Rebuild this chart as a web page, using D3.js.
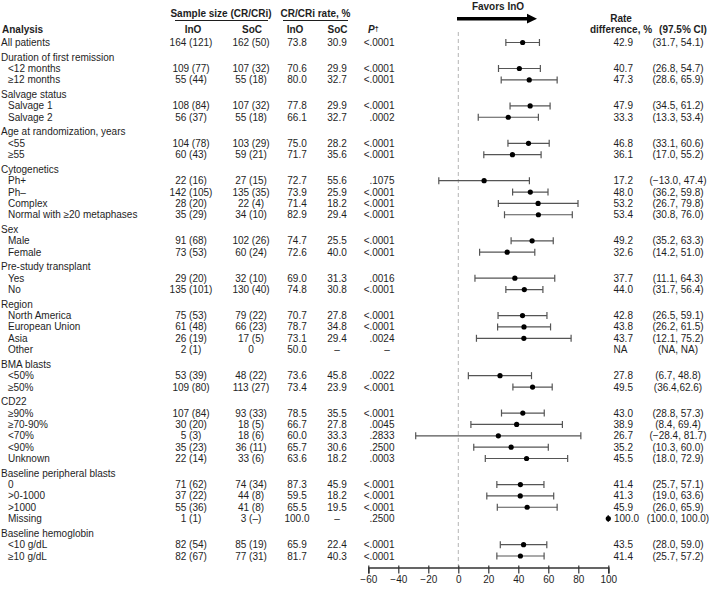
<!DOCTYPE html>
<html><head><meta charset="utf-8">
<script src="https://cdn.jsdelivr.net/npm/d3@7"></script>
<style>
html,body{margin:0;padding:0;background:#fff;}
svg{display:block;font-family:"Liberation Sans",Arial,Helvetica,sans-serif;}
</style></head>
<body><svg id="c" width="709" height="589"></svg>
<script>
const rowLabels = ["All patients","Duration of first remission","<12 months","≥12 months","Salvage status","Salvage 1","Salvage 2","Age at randomization, years","<55","≥55","Cytogenetics","Ph+","Ph–","Complex","Normal with ≥20 metaphases","Sex","Male","Female","Pre-study transplant","Yes","No","Region","North America","European Union","Asia","Other","BMA blasts","<50%","≥50%","CD22","≥90%","≥70-90%","<70%","<90%","Unknown","Baseline peripheral blasts","0",">0-1000",">1000","Missing","Baseline hemoglobin","<10 g/dL","≥10 g/dL"];
const rowIsGroup = [0,1,0,0,1,0,0,1,0,0,1,0,0,0,0,1,0,0,1,0,0,1,0,0,0,0,1,0,0,1,0,0,0,0,0,1,0,0,0,0,1,0,0];
const inoSample = ["164 (121)",null,"109 (77)","55 (44)",null,"108 (84)","56 (37)",null,"104 (78)","60 (43)",null,"22 (16)","142 (105)","28 (20)","35 (29)",null,"91 (68)","73 (53)",null,"29 (20)","135 (101)",null,"75 (53)","61 (48)","26 (19)","2 (1)",null,"53 (39)","109 (80)",null,"107 (84)","30 (20)","5 (3)","35 (23)","22 (14)",null,"71 (62)","37 (22)","55 (36)","1 (1)",null,"82 (54)","82 (67)"];
const socSample = ["162 (50)",null,"107 (32)","55 (18)",null,"107 (32)","55 (18)",null,"103 (29)","59 (21)",null,"27 (15)","135 (35)","22 (4)","34 (10)",null,"102 (26)","60 (24)",null,"32 (10)","130 (40)",null,"79 (22)","66 (23)","17 (5)","0",null,"48 (22)","113 (27)",null,"93 (33)","18 (5)","18 (6)","36 (11)","33 (6)",null,"74 (34)","44 (8)","41 (8)","3 (–)",null,"85 (19)","77 (31)"];
const inoRate = ["73.8",null,"70.6","80.0",null,"77.8","66.1",null,"75.0","71.7",null,"72.7","73.9","71.4","82.9",null,"74.7","72.6",null,"69.0","74.8",null,"70.7","78.7","73.1","50.0",null,"73.6","73.4",null,"78.5","66.7","60.0","65.7","63.6",null,"87.3","59.5","65.5","100.0",null,"65.9","81.7"];
const socRate = ["30.9",null,"29.9","32.7",null,"29.9","32.7",null,"28.2","35.6",null,"55.6","25.9","18.2","29.4",null,"25.5","40.0",null,"31.3","30.8",null,"27.8","34.8","29.4","–",null,"45.8","23.9",null,"35.5","27.8","33.3","30.6","18.2",null,"45.9","18.2","19.5","–",null,"22.4","40.3"];
const pValues = ["<.0001",null,"<.0001","<.0001",null,"<.0001",".0002",null,"<.0001","<.0001",null,".1075","<.0001","<.0001","<.0001",null,"<.0001","<.0001",null,".0016","<.0001",null,"<.0001","<.0001",".0024","–",null,".0022","<.0001",null,"<.0001",".0045",".2833",".2500",".0003",null,"<.0001","<.0001","<.0001",".2500",null,"<.0001","<.0001"];
const rateDiff = [42.9,null,40.7,47.3,null,47.9,33.3,null,46.8,36.1,null,17.2,48.0,53.2,53.4,null,49.2,32.6,null,37.7,44.0,null,42.8,43.8,43.7,"NA",null,27.8,49.5,null,43.0,38.9,26.7,35.2,45.5,null,41.4,41.3,45.9,100.0,null,43.5,41.4];
const ciLow = [31.7,null,26.8,28.6,null,34.5,13.3,null,33.1,17.0,null,-13.0,36.2,26.7,30.8,null,35.2,14.2,null,11.1,31.7,null,26.5,26.2,12.1,null,null,6.7,36.4,null,28.8,8.4,-28.4,10.3,18.0,null,25.7,19.0,26.0,100.0,null,28.0,25.7];
const ciHigh = [54.1,null,54.7,65.9,null,61.2,53.4,null,60.6,55.2,null,47.4,59.8,79.8,76.0,null,63.3,51.0,null,64.3,56.4,null,59.1,61.5,75.2,null,null,48.8,62.6,null,57.3,69.4,81.7,60.0,72.9,null,57.1,63.6,65.9,100.0,null,59.0,57.2];
const ciLabels = ["(31.7, 54.1)",null,"(26.8, 54.7)","(28.6, 65.9)",null,"(34.5, 61.2)","(13.3, 53.4)",null,"(33.1, 60.6)","(17.0, 55.2)",null,"(−13.0, 47.4)","(36.2, 59.8)","(26.7, 79.8)","(30.8, 76.0)",null,"(35.2, 63.3)","(14.2, 51.0)",null,"(11.1, 64.3)","(31.7, 56.4)",null,"(26.5, 59.1)","(26.2, 61.5)","(12.1, 75.2)","(NA, NA)",null,"(6.7, 48.8)","(36.4,62.6)",null,"(28.8, 57.3)","(8.4, 69.4)","(−28.4, 81.7)","(10.3, 60.0)","(18.0, 72.9)",null,"(25.7, 57.1)","(19.0, 63.6)","(26.0, 65.9)","(100.0, 100.0)",null,"(28.0, 59.0)","(25.7, 57.2)"];
const axisTicks = [-60,-40,-20,0,20,40,60,80,100];

const svg = d3.select("#c");
const ink = "#1e1e1e";
const fs = 10;

// vertical layout: row index plus extra gap before each group header
let g = 0;
const rows = rowLabels.map((lab, i) => {
  if (rowIsGroup[i]) g++;
  return {i, lab, grp: !!rowIsGroup[i], pos: i + g * 0.29,
    ino: inoSample[i], soc: socSample[i], ir: inoRate[i], sr: socRate[i],
    p: pValues[i], rd: rateDiff[i], lo: ciLow[i], hi: ciHigh[i], ci: ciLabels[i]};
});
const y = d3.scaleLinear().domain([0, d3.max(rows, d => d.pos)]).range([42.5, 556]);
const x = d3.scaleLinear().domain([-60, 100]).range([368.3, 608.3]);

function txt(xp, yp, s, anchor, weight, style) {
  return svg.append("text").attr("x", xp).attr("y", yp).attr("dy", "0.35em")
    .attr("text-anchor", anchor || "start").attr("font-size", fs)
    .attr("font-weight", weight || "normal").attr("font-style", style || "normal")
    .attr("fill", ink).text(s);
}

// headers
txt(2, 29.5, "Analysis", "start", "bold");
txt(221, 13.5, "Sample size (CR/CRi)", "middle", "bold");
txt(315.5, 13.5, "CR/CRi rate, %", "middle", "bold");
svg.append("line").attr("x1", 175).attr("x2", 268).attr("y1", 20.5).attr("y2", 20.5).attr("stroke", ink).attr("stroke-width", 1);
svg.append("line").attr("x1", 283).attr("x2", 348).attr("y1", 20.5).attr("y2", 20.5).attr("stroke", ink).attr("stroke-width", 1);
txt(193, 29.5, "InO", "middle", "bold");
txt(252, 29.5, "SoC", "middle", "bold");
txt(295, 29.5, "InO", "middle", "bold");
txt(337.5, 29.5, "SoC", "middle", "bold");
const pt = txt(368, 29.5, "", "start", "bold");
pt.append("tspan").attr("font-style", "italic").text("P");
pt.append("tspan").attr("font-size", 7).attr("dy", "-0.3em").text("†");
txt(498, 6.5, "Favors InO", "middle", "bold");
txt(621, 18, "Rate", "middle", "bold");
txt(621, 29.5, "difference, %", "middle", "bold");
txt(683, 29.5, "(97.5% CI)", "middle", "bold");

// arrow
svg.append("line").attr("x1", 457).attr("x2", 529).attr("y1", 18.7).attr("y2", 18.7).attr("stroke", "#000").attr("stroke-width", 3.5);
svg.append("path").attr("d", "M527,13.8 L537,18.7 L527,23.6 Z").attr("fill", "#000");

// zero dashed line
svg.append("line").attr("x1", x(0)).attr("x2", x(0)).attr("y1", 32).attr("y2", 567)
  .attr("stroke", "#b5b5b5").attr("stroke-width", 1).attr("stroke-dasharray", "4,3");

// table text
rows.forEach(d => {
  const yy = y(d.pos);
  txt(d.grp || d.i === 0 ? 1 : 8, yy, d.lab);
  if (d.grp) return;
  txt(191, yy, d.ino, "middle");
  txt(251, yy, d.soc, "middle");
  txt(297, yy, d.ir, "middle");
  txt(337, yy, d.sr, "middle");
  if (d.p === "–") txt(387, yy, d.p, "middle"); else txt(394.5, yy, d.p, "end");
  txt(d.rd === 100 ? 614 : 613.5, yy, typeof d.rd === "number" ? d.rd.toFixed(1) : d.rd);
  txt(678, yy, d.ci, "middle");
});

// CI bars and points
const est = rows.filter(d => !d.grp && d.lo != null);
const gci = svg.append("g");
est.forEach(d => {
  const yy = y(d.pos);
  gci.append("line").attr("x1", x(d.lo)).attr("x2", x(d.hi)).attr("y1", yy).attr("y2", yy).attr("stroke", "#555").attr("stroke-width", 1.2);
  [d.lo, d.hi].forEach(v => gci.append("line").attr("x1", x(v)).attr("x2", x(v)).attr("y1", yy - 3.5).attr("y2", yy + 3.5).attr("stroke", "#555").attr("stroke-width", 1.2));
  gci.append("circle").attr("cx", x(d.rd)).attr("cy", yy).attr("r", 2.6).attr("fill", "#000");
});

// axis
const ax = svg.append("g").attr("transform", "translate(0,567.5)")
  .call(d3.axisBottom(x).tickValues(axisTicks).tickSizeOuter(0).tickSize(6).tickPadding(2));
ax.select(".domain").attr("stroke", "#333").attr("stroke-width", 1.6);
ax.selectAll(".tick line").attr("stroke", "#333").attr("stroke-width", 1.2).attr("y1", -2);
ax.selectAll(".tick text").attr("font-size", fs).attr("fill", ink).attr("font-family", "Liberation Sans, Arial, sans-serif");
</script></body></html>
